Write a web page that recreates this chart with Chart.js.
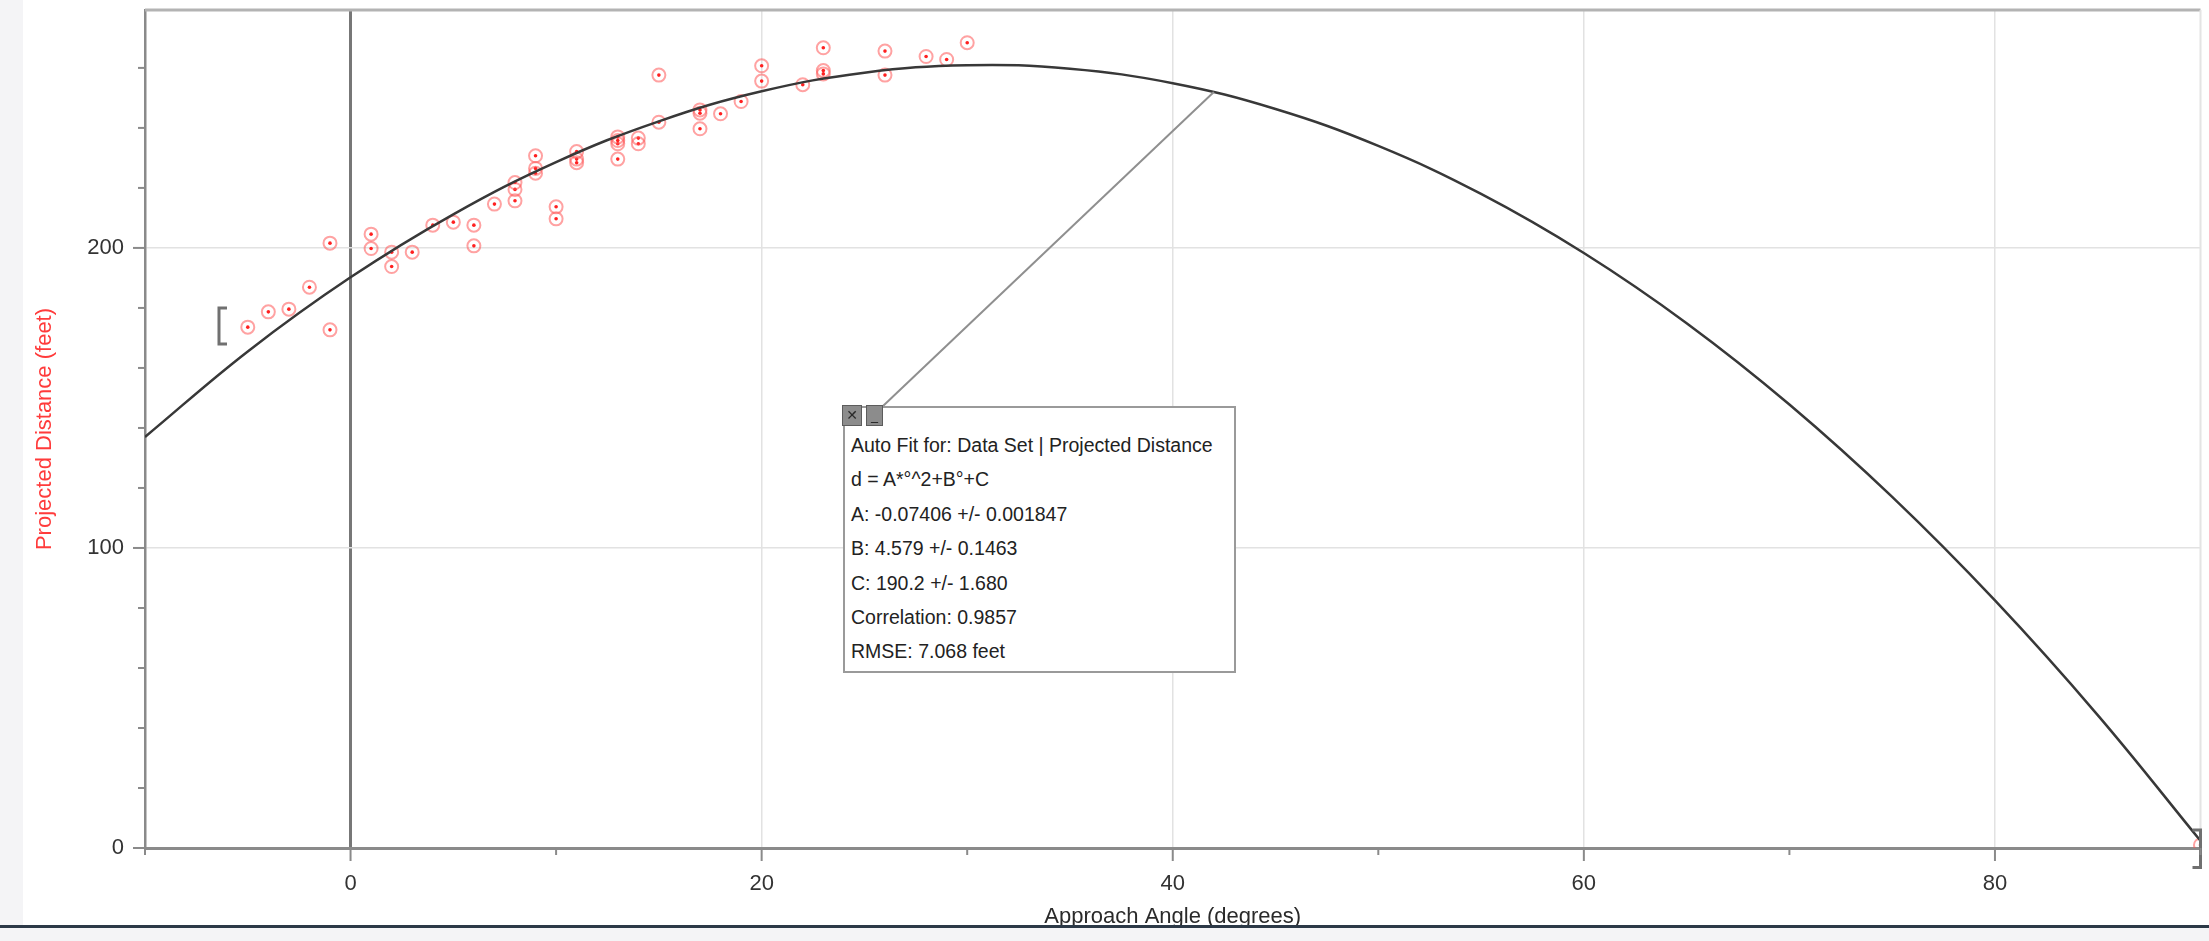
<!DOCTYPE html>
<html>
<head>
<meta charset="utf-8">
<title>Approach Angle vs Projected Distance</title>
<script src="https://cdn.jsdelivr.net/npm/chart.js@4.4.1/dist/chart.umd.min.js"></script>
<style>
    html, body { margin: 0; padding: 0; width: 2209px; height: 941px; overflow: hidden; background: #f4f4f6; }
    #paper { position: absolute; left: 23px; top: 0; width: 2186px; height: 925px; background: #fff; }
    #plot { position: absolute; left: 0; top: 0; }
    #bar { position: absolute; left: 0; top: 925px; width: 2209px; height: 3px; background: #2c3947; }
    #fitbox {
        position: absolute; left: 843px; top: 406px; width: 393px; height: 267px;
        box-sizing: border-box; border: 2px solid #9a9a9a; background: #fff;
        padding: 20px 0 0 6px; font-family: "Liberation Sans", Arial, sans-serif;
        font-size: 19.5px; line-height: 34.4px; color: #222;
    }
    #fitbox .btn {
        position: absolute; top: -3px; height: 21px; box-sizing: border-box;
        background: #8c8c8c; border: 1px solid #5c5c5c; color: #2a2a2a;
        font-family: "DejaVu Sans", sans-serif; font-size: 14px; line-height: 18px; text-align: center;
    }
    #fitbox .close { left: -3px; width: 20px; }
    #fitbox .min { left: 21px; width: 17px; }
</style>
</head>
<body>
<div id="paper"></div>
<canvas id="plot" width="2209" height="941"></canvas>
<div id="fitbox">
    <div class="btn close">✕</div>
    <div class="btn min">_</div>
    <div id="fit-lines"></div>
</div>
<div id="bar"></div>

<script>
// --- datos ---
const ANGLE = [-5, -4, -3, -2, -1, -1, 1, 1, 2, 2, 3, 4, 5, 6, 6, 7, 8, 8, 8, 9, 9, 9, 10, 10,
    11, 11, 11, 13, 13, 13, 13, 14, 14, 15, 15, 17, 17, 17, 18, 19, 20, 20, 22, 23, 23, 23,
    26, 26, 28, 29, 30, 90];
const DISTANCE = [173.6, 178.7, 179.6, 186.9, 201.6, 172.7, 204.6, 199.8, 198.6, 193.8, 198.6, 207.6,
    208.6, 207.6, 200.7, 214.6, 221.8, 219.5, 215.7, 230.7, 226.5, 224.9, 213.7, 209.7,
    232.1, 229.6, 228.4, 237.0, 235.8, 234.7, 229.6, 236.6, 234.7, 257.6, 241.9, 246.0, 244.9, 239.7,
    244.7, 248.8, 260.7, 255.6, 254.4, 266.7, 259.1, 258.0, 265.6, 257.6, 263.8, 262.8, 268.4, 1];

// curva de ajuste, leida cada 5 grados
const FIT_ANGLE = [-10, -5, 0, 5, 10, 15, 20, 25, 30, 35, 40, 45, 50, 55, 60, 65, 70, 75, 80, 85, 90];
const FIT_DIST = [137.0, 165.5, 190.2, 211.2, 228.6, 242.2, 252.2, 258.4, 260.9, 259.7, 254.9,
    246.3, 234.0, 218.0, 198.3, 174.9, 147.8, 117.0, 82.5, 44.3, 2.4];

const FIT_LINES = [
    'Auto Fit for: Data Set | Projected Distance',
    'd = A*°^2+B°+C',
    'A: -0.07406 +/- 0.001847',
    'B: 4.579 +/- 0.1463',
    'C: 190.2 +/- 1.680',
    'Correlation: 0.9857',
    'RMSE: 7.068 feet'
];

const X_RANGE = [-10, 90];
const Y_RANGE = [0, 279.3];
const FIT_ANCHOR = { x: 42, y: 252 };     // punto de la curva unido al cuadro
const BRACKET_LEFT = { x: -6.4, lo: 168, hi: 180 };
const BRACKET_RIGHT = { x: 90, lo: -6.5, hi: 6 };

const FONT = '"Liberation Sans", Arial, sans-serif';

document.getElementById('fit-lines').innerHTML = FIT_LINES.map(l => `<div>${l}</div>`).join('');

const points = ANGLE.map((a, i) => ({ x: a, y: DISTANCE[i] }));
const curve = FIT_ANGLE.map((a, i) => ({ x: a, y: FIT_DIST[i] }));

// marcas de eje, bordes, corchetes y linea guia
const extras = {
    id: 'extras',
    beforeDatasetsDraw(chart) {
        const { ctx, chartArea: a } = chart;
        ctx.save();
        ctx.strokeStyle = '#b3b3b3';
        ctx.lineWidth = 3;
        ctx.beginPath(); ctx.moveTo(a.left, a.top); ctx.lineTo(a.right, a.top); ctx.stroke();
        ctx.strokeStyle = '#e4e4e4';
        ctx.lineWidth = 2;
        ctx.beginPath(); ctx.moveTo(a.right, a.top); ctx.lineTo(a.right, a.bottom); ctx.stroke();
        ctx.restore();
    },
    afterDatasetsDraw(chart) {
        const { ctx, scales: { x, y } } = chart;
        ctx.save();
        // linea guia hacia el cuadro
        const fb = document.getElementById('fitbox');
        ctx.strokeStyle = '#8f8f8f';
        ctx.lineWidth = 2;
        ctx.beginPath();
        ctx.moveTo(x.getPixelForValue(FIT_ANCHOR.x), y.getPixelForValue(FIT_ANCHOR.y));
        ctx.lineTo(fb.offsetLeft + 40, fb.offsetTop);
        ctx.stroke();
        // corchetes de rango
        ctx.strokeStyle = '#707070';
        ctx.lineWidth = 3;
        const bracket = (b, dir) => {
            const px = x.getPixelForValue(b.x);
            const top = y.getPixelForValue(b.hi), bot = y.getPixelForValue(b.lo);
            ctx.beginPath();
            ctx.moveTo(px + dir * 8, top); ctx.lineTo(px, top);
            ctx.lineTo(px, bot); ctx.lineTo(px + dir * 8, bot);
            ctx.stroke();
        };
        bracket(BRACKET_LEFT, 1);
        bracket(BRACKET_RIGHT, -1);
        ctx.restore();
    },
    afterDraw(chart) {
        const { ctx, scales: { x, y }, chartArea: a } = chart;
        ctx.save();
        ctx.strokeStyle = '#8a8a8a';
        ctx.lineWidth = 2;
        y.ticks.forEach(t => {
            const py = y.getPixelForValue(t.value);
            const len = t.value % 100 === 0 ? 12 : 7;
            ctx.beginPath(); ctx.moveTo(a.left - len, py); ctx.lineTo(a.left, py); ctx.stroke();
        });
        x.ticks.forEach(t => {
            const px = x.getPixelForValue(t.value);
            const len = t.value % 20 === 0 ? 13 : 7;
            ctx.beginPath(); ctx.moveTo(px, a.bottom); ctx.lineTo(px, a.bottom + len); ctx.stroke();
        });
        ctx.restore();
    }
};

new Chart(document.getElementById('plot'), {
    type: 'scatter',
    data: {
        datasets: [
            {
                data: curve,
                showLine: true,
                tension: 0.4,
                borderColor: '#383838',
                borderWidth: 2.5,
                pointRadius: 0
            },
            {
                data: points,
                pointRadius: 6.5,
                pointBorderWidth: 2,
                borderColor: 'rgba(255, 85, 85, 0.55)',
                backgroundColor: 'rgba(255, 255, 255, 0)'
            },
            {
                data: points,
                pointRadius: 1.8,
                pointBorderWidth: 0,
                borderColor: '#ff2020',
                backgroundColor: '#ff2020'
            }
        ]
    },
    options: {
        responsive: false,
        animation: false,
        events: [],
        layout: { padding: { left: 0, right: 2, top: 10, bottom: 0 } },
        plugins: { legend: { display: false }, tooltip: { enabled: false } },
        scales: {
            x: {
                type: 'linear',
                min: X_RANGE[0],
                max: X_RANGE[1],
                afterBuildTicks: s => { s.ticks = s.ticks.filter(t => t.value % 10 === 0); },
                afterFit: s => { s.height = 93; s.paddingLeft = 0; s.paddingRight = 0; },
                ticks: {
                    stepSize: 10,
                    autoSkip: false,
                    maxRotation: 0,
                    padding: 23,
                    color: '#333',
                    font: { family: FONT, size: 22 },
                    callback: v => (v % 20 === 0 && v > X_RANGE[0] && v < X_RANGE[1]) ? String(v) : ''
                },
                grid: {
                    drawTicks: false,
                    color: c => {
                        const v = c.tick ? c.tick.value : null;
                        if (v === 0) return '#777';
                        if (v % 20 === 0 && v > X_RANGE[0] && v < X_RANGE[1]) return '#e2e2e2';
                        return 'rgba(0,0,0,0)';
                    },
                    lineWidth: c => (c.tick && c.tick.value === 0) ? 3 : 1.5
                },
                border: { display: true, color: '#8a8a8a', width: 3 },
                title: {
                    display: true,
                    text: 'Approach Angle (degrees)',
                    color: '#2a2a2a',
                    font: { family: FONT, size: 22, lineHeight: 1.2 },
                    padding: { top: 0, bottom: 11 }
                }
            },
            y: {
                type: 'linear',
                min: Y_RANGE[0],
                max: Y_RANGE[1],
                afterBuildTicks: s => { s.ticks = s.ticks.filter(t => t.value % 20 === 0); },
                afterFit: s => { s.width = 145; s.paddingTop = 0; s.paddingBottom = 0; },
                ticks: {
                    stepSize: 20,
                    autoSkip: false,
                    padding: 21,
                    color: '#333',
                    font: { family: FONT, size: 22 },
                    callback: v => v % 100 === 0 ? String(v) : ''
                },
                grid: {
                    drawTicks: false,
                    color: c => {
                        const v = c.tick ? c.tick.value : null;
                        return (v === 100 || v === 200) ? '#e2e2e2' : 'rgba(0,0,0,0)';
                    },
                    lineWidth: 1.5
                },
                border: { display: true, color: '#8a8a8a', width: 2.5 },
                title: {
                    display: true,
                    text: 'Projected Distance (feet)',
                    color: '#ff3b3b',
                    font: { family: FONT, size: 22, lineHeight: 1.2 },
                    padding: { top: 32, bottom: 0 }
                }
            }
        }
    },
    plugins: [extras]
});
</script>
</body>
</html>
